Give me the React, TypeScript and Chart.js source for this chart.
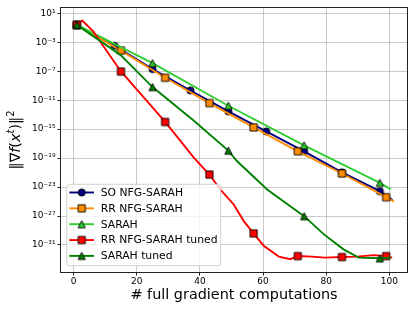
import React, { useEffect, useRef } from 'react';
import { Chart, registerables } from 'chart.js';

Chart.register(...registerables);

// ---- axis ticks ----
const xTicks = [0, 20, 40, 60, 80, 100];
const yTickExps = [1, -3, -7, -11, -15, -19, -23, -27, -31];
const yTickLabels = ['10¹', '10⁻³', '10⁻⁷', '10⁻¹¹', '10⁻¹⁵', '10⁻¹⁹', '10⁻²³', '10⁻²⁷', '10⁻³¹'];

const seriesNames = ['SO NFG-SARAH', 'RR NFG-SARAH', 'SARAH', 'RR NFG-SARAH tuned', 'SARAH tuned'];

// ---- series (x = full gradient computations, exp = log10 of ||grad||^2) ----
const soX = [1, 13, 25, 37, 49, 61, 73, 85, 97, 101];
const soExp = [-0.6, -3.5, -6.71, -9.66, -12.55, -15.31, -18.06, -20.96, -23.57, -24.8];
const soMarks = [1, 13, 25, 37, 49, 61, 73, 85, 97];

const rrX = [1, 15, 29, 43, 57, 71, 85, 99, 101.5];
const rrExp = [-0.6, -4.15, -7.91, -11.4, -14.76, -18.06, -21.13, -24.4, -25.0];
const rrMarks = [1, 15, 29, 43, 57, 71, 85, 99];

const sarahX = [1, 25, 49, 73, 97, 100.5];
const sarahExp = [-0.6, -5.89, -11.77, -17.24, -22.42, -23.3];
const sarahMarks = [1, 25, 49, 73, 97];

const rrTunedX = [1, 2.7, 6.3, 9.5, 15, 22, 29, 38, 43, 46.5, 50.7, 53.9, 57, 60.2, 65, 68.6, 71, 75.4, 79.6, 85, 89.8, 95, 99, 100.9];
const rrTunedExp = [-0.6, 0.0, -1.53, -3.6, -7.04, -10.5, -14.01, -18.9, -21.27, -23.34, -25.4, -27.7, -29.4, -31.1, -32.6, -32.96, -32.53, -32.6, -32.75, -32.66, -32.6, -32.4, -32.53, -32.75];
const rrTunedMarks = [1, 15, 29, 43, 57, 71, 85, 99];

const sarahTunedX = [1, 14.8, 25, 38, 49, 51.8, 61.3, 73, 79.2, 85.5, 90.3, 97, 100.5];
const sarahTunedExp = [-0.6, -4.74, -9.19, -13.8, -17.97, -19.44, -23.34, -27.02, -29.5, -31.6, -32.75, -32.84, -32.75];
const sarahTunedMarks = [1, 25, 49, 73, 97];

const colors = ['#000080', '#ff8c00', '#32cd32', '#ff0000', '#008000'];
const shapes = ['circle', 'square', 'triangle', 'square', 'triangle'];

const FONT = '"DejaVu Sans", sans-serif';

function makeMarker(shape: string, fill: string): HTMLCanvasElement {
  const c = document.createElement('canvas');
  c.width = 11;
  c.height = 11;
  const g = c.getContext('2d')!;
  const m = 5.5;
  const s = 3.6;
  g.beginPath();
  if (shape === 'circle') {
    g.arc(m, m, s, 0, Math.PI * 2);
  } else if (shape === 'square') {
    g.rect(m - s, m - s, 2 * s, 2 * s);
  } else {
    g.moveTo(m, m - s);
    g.lineTo(m + s, m + s);
    g.lineTo(m - s, m + s);
    g.closePath();
  }
  g.fillStyle = fill;
  g.fill();
  g.lineWidth = 0.9;
  g.strokeStyle = '#000';
  g.stroke();
  return c;
}

const toPts = (xs: number[], es: number[]) => xs.map((x, i) => ({ x, y: Math.pow(10, es[i]) }));

export default function App() {
  const ref = useRef<HTMLCanvasElement | null>(null);

  useEffect(() => {
    if (!ref.current) return;
    const markers = shapes.map((s, i) => makeMarker(s, colors[i]));
    const all = [
      [soX, soExp, soMarks],
      [rrX, rrExp, rrMarks],
      [sarahX, sarahExp, sarahMarks],
      [rrTunedX, rrTunedExp, rrTunedMarks],
      [sarahTunedX, sarahTunedExp, sarahTunedMarks],
    ] as [number[], number[], number[]][];

    const datasets = all.map(([xs, es, marks], i) => ({
      label: seriesNames[i],
      data: toPts(xs, es),
      borderColor: colors[i],
      backgroundColor: colors[i],
      borderWidth: 1.9,
      tension: 0,
      pointStyle: markers[i],
      pointRadius: (c: any) => (c.dataIndex !== undefined && marks.includes(xs[c.dataIndex]) ? 4 : 0),
      pointHoverRadius: 0,
      order: 5 - i,
    }));

    const decor = {
      id: 'decor',
      afterDraw(chart: any) {
        const { ctx, chartArea: a } = chart;
        ctx.save();
        // spines
        ctx.strokeStyle = '#222';
        ctx.lineWidth = 1;
        const L = Math.round(a.left) - 0.5;
        const T = Math.round(a.top) - 0.5;
        const R = Math.round(a.right) + 0.5;
        const B = Math.round(a.bottom) + 0.5;
        ctx.strokeRect(L, T, R - L, B - T);

        // legend
        const bx = a.left + 5.7;
        const bw = 154;
        const by = a.bottom - 87.7;
        const bh = 81.4;
        const r = 3;
        ctx.beginPath();
        ctx.moveTo(bx + r, by);
        ctx.lineTo(bx + bw - r, by);
        ctx.quadraticCurveTo(bx + bw, by, bx + bw, by + r);
        ctx.lineTo(bx + bw, by + bh - r);
        ctx.quadraticCurveTo(bx + bw, by + bh, bx + bw - r, by + bh);
        ctx.lineTo(bx + r, by + bh);
        ctx.quadraticCurveTo(bx, by + bh, bx, by + bh - r);
        ctx.lineTo(bx, by + r);
        ctx.quadraticCurveTo(bx, by, bx + r, by);
        ctx.closePath();
        ctx.fillStyle = 'rgba(255,255,255,0.8)';
        ctx.fill();
        ctx.strokeStyle = '#d0d0d0';
        ctx.lineWidth = 1;
        ctx.stroke();

        ctx.font = `10.8px ${FONT}`;
        ctx.textBaseline = 'middle';
        ctx.textAlign = 'left';
        seriesNames.forEach((name, i) => {
          const cy = by + 8.2 + i * 15.85;
          ctx.strokeStyle = colors[i];
          ctx.lineWidth = 1.9;
          ctx.beginPath();
          ctx.moveTo(bx + 2.6, cy);
          ctx.lineTo(bx + 27.3, cy);
          ctx.stroke();
          ctx.drawImage(markers[i], bx + 15 - 5.5, cy - 5.5);
          ctx.fillStyle = '#000';
          ctx.fillText(name, bx + 34, cy + 0.5);
        });

        // x title
        ctx.font = `14.4px ${FONT}`;
        ctx.textAlign = 'center';
        ctx.textBaseline = 'middle';
        ctx.fillStyle = '#000';
        ctx.fillText('# full gradient computations', (a.left + a.right) / 2, 295);

        // y title with math pieces
        const pieces = [
          { t: '‖∇', it: false, sup: false },
          { t: 'f', it: true, sup: false },
          { t: '(', it: false, sup: false },
          { t: 'x', it: true, sup: false },
          { t: 't', it: true, sup: true },
          { t: ')‖', it: false, sup: false },
          { t: '2', it: false, sup: true },
        ];
        const fontFor = (p: any) => `${p.it ? 'italic ' : ''}${p.sup ? 10 : 14.4}px ${FONT}`;
        let total = 0;
        const widths = pieces.map((p) => {
          ctx.font = fontFor(p);
          const w = ctx.measureText(p.t).width;
          total += w;
          return w;
        });
        ctx.translate(15, (a.top + a.bottom) / 2);
        ctx.rotate(-Math.PI / 2);
        ctx.textAlign = 'left';
        ctx.textBaseline = 'alphabetic';
        let px = -total / 2;
        pieces.forEach((p, i) => {
          ctx.font = fontFor(p);
          ctx.fillText(p.t, px, p.sup ? -1 : 5);
          px += widths[i];
        });
        ctx.restore();
      },
    };

    const chart = new Chart(ref.current, {
      type: 'line',
      data: { datasets: datasets as any },
      options: {
        animation: false,
        responsive: false,
        devicePixelRatio: 1,
        events: [],
        layout: { padding: { top: 8, right: 8, left: 0, bottom: 0 } },
        plugins: { legend: { display: false }, tooltip: { enabled: false } },
        scales: {
          x: {
            type: 'linear',
            min: -4,
            max: 105.6,
            border: { display: false },
            grid: { color: 'rgba(176,176,176,0.75)', lineWidth: 0.9, tickColor: '#000', tickLength: 3.5, tickWidth: 0.9 },
            afterBuildTicks: (s: any) => {
              s.ticks = xTicks.map((v) => ({ value: v }));
            },
            afterFit: (s: any) => {
              s.height = 40;
            },
            ticks: {
              autoSkip: false,
              maxRotation: 0,
              padding: 1,
              color: '#000',
              font: { family: FONT, size: 9 },
              callback: (v: any) => String(v),
            },
          },
          y: {
            type: 'logarithmic',
            min: Math.pow(10, -34.73),
            max: Math.pow(10, 1.73),
            border: { display: false },
            grid: { color: 'rgba(176,176,176,0.75)', lineWidth: 0.9, tickColor: '#000', tickLength: 3.5, tickWidth: 0.9 },
            afterBuildTicks: (s: any) => {
              s.ticks = yTickExps.map((e) => ({ value: Math.pow(10, e) }));
            },
            afterFit: (s: any) => {
              s.width = 61;
            },
            ticks: {
              autoSkip: false,
              padding: 2,
              color: '#000',
              font: { family: FONT, size: 9 },
              callback: (_v: any, i: number) => yTickLabels[i],
            },
          },
        },
      },
      plugins: [decor],
    });
    return () => chart.destroy();
  }, []);

  return (
    <div style={{ position: 'fixed', left: 0, top: 0, width: 415, height: 312, background: '#fff' }}>
      <canvas ref={ref} width={415} height={312} style={{ width: 415, height: 312 }} />
    </div>
  );
}
